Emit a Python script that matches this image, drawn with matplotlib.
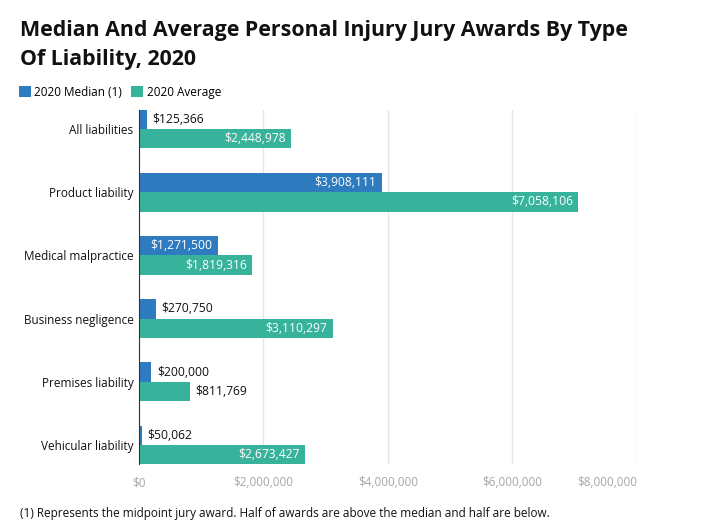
import numpy as np
import matplotlib.pyplot as plt

plt.rcParams['font.family'] = ['Open Sans', 'DejaVu Sans']

# Data
categories = ['All liabilities', 'Product liability', 'Medical malpractice',
              'Business negligence', 'Premises liability', 'Vehicular liability']
median_2020 = [125366, 3908111, 1271500, 270750, 200000, 50062]
average_2020 = [2448978, 7058106, 1819316, 3110297, 811769, 2673427]
xticks = [0, 2000000, 4000000, 6000000, 8000000]

blue = '#2f7bbf'
teal = '#38b39b'
fs = 8.5

fig = plt.figure(figsize=(7.16, 5.29), dpi=100)
ax = fig.add_axes([139 / 716, 1 - 464 / 529, (637 - 139) / 716, (464 - 110) / 529])

y = np.arange(len(categories))
h = 0.305
bars_med = ax.barh(y - h / 2, median_2020, height=h, color=blue, label='2020 Median (1)', zorder=3)
bars_avg = ax.barh(y + h / 2, average_2020, height=h, color=teal, label='2020 Average', zorder=3)

ax.set_xlim(0, 8000000)
ax.set_ylim(len(categories) - 1 + h, -h)


def label_bars(bars, values):
    for bar, v in zip(bars, values):
        txt = '${:,}'.format(v)
        yc = bar.get_y() + bar.get_height() / 2
        if v > 1000000:
            ax.annotate(txt, (v, yc), xytext=(-4, 0), textcoords='offset points',
                        ha='right', va='center', color='white', fontsize=fs + 0.2, zorder=4)
        else:
            ax.annotate(txt, (v, yc), xytext=(4, 0), textcoords='offset points',
                        ha='left', va='center', color='#111111', fontsize=fs + 0.2, zorder=4)


label_bars(bars_med, median_2020)
label_bars(bars_avg, average_2020)

ax.set_yticks(y)
ax.set_yticklabels(categories, fontsize=fs, color='#111111')
ax.set_xticks(xticks)
ax.set_xticklabels(['${:,}'.format(t) for t in xticks], fontsize=fs, color='#a6a6a6')
ax.get_xticklabels()[-1].set_ha('right')
ax.tick_params(axis='both', length=0)
ax.tick_params(axis='y', pad=4)
ax.tick_params(axis='x', pad=9)

ax.grid(axis='x', color='#e6e6e6', linewidth=1, zorder=0)
for s in ['top', 'right', 'bottom']:
    ax.spines[s].set_visible(False)
ax.spines['left'].set_color('#333333')
ax.spines['left'].set_zorder(5)

fig.text(20 / 716, 1 - 36 / 529, 'Median And Average Personal Injury Jury Awards By Type',
         fontsize=15.4, fontweight='bold', color='#111111', ha='left', va='baseline')
fig.text(20 / 716, 1 - 65 / 529, 'Of Liability, 2020',
         fontsize=15.4, fontweight='bold', color='#111111', ha='left', va='baseline')

fig.legend(loc='upper left', bbox_to_anchor=(14 / 716, 1 - 81 / 529), ncol=2, frameon=False,
           fontsize=fs, handlelength=1.0, handleheight=1.0, handletextpad=0.3,
           columnspacing=0.8, borderaxespad=0)

fig.text(20 / 716, 1 - 517 / 529,
         '(1) Represents the midpoint jury award. Half of awards are above the median and half are below.',
         fontsize=fs, color='#111111', ha='left', va='baseline')

fig.savefig('out.png', dpi=100)
